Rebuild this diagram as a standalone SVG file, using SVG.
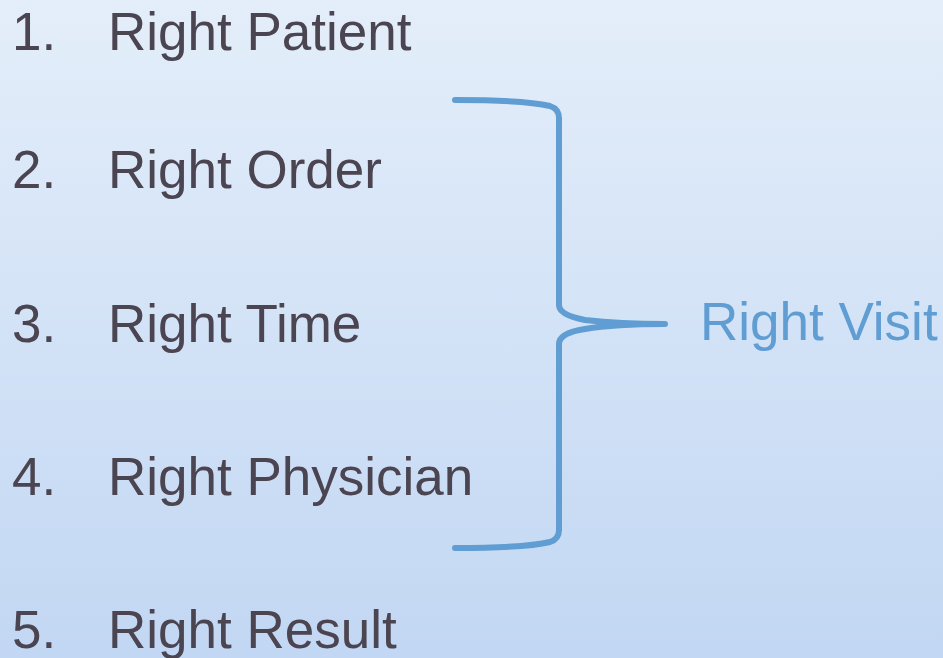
<svg xmlns="http://www.w3.org/2000/svg" width="943" height="658" viewBox="0 0 943 658">
<defs>
<linearGradient id="bg" x1="0" y1="0" x2="0" y2="1">
<stop offset="0" stop-color="#e4eefa"/>
<stop offset="1" stop-color="#c2d7f3"/>
</linearGradient>
<style>
.item{font-family:"Liberation Sans",Arial,sans-serif;font-size:53px;fill:#4b4451}
.lbl{font-family:"Liberation Sans",Arial,sans-serif;font-size:53px;fill:#5f9dd3}
.brace{fill:none;stroke:#5f9dd3;stroke-width:6;stroke-linecap:round;stroke-linejoin:round}
</style>
</defs>
<rect width="943" height="658" fill="url(#bg)"/>
<g id="item1"><text class="item" x="12" y="50">1.</text><text class="item" x="108" y="50">Right Patient</text></g>
<g id="item2"><text class="item" x="12" y="188">2.</text><text class="item" x="108" y="188">Right Order</text></g>
<g id="item3"><text class="item" x="12" y="342">3.</text><text class="item" x="108" y="342">Right Time</text></g>
<g id="item4"><text class="item" x="12" y="495">4.</text><text class="item" x="108" y="495">Right Physician</text></g>
<g id="item5"><text class="item" x="12" y="648">5.</text><text class="item" x="108" y="648">Right Result</text></g>
<g id="connectors">
<path class="brace" d="M455,100 Q525,100 550,106 Q559,109 559,118 L559,305 Q559,315 585,320 Q620,324 665,324 Q615,324 585,329 Q559,333 559,344 L559,530 Q559,539 550,542 Q525,548 455,548"/>
</g>
<g id="right-visit"><text class="lbl" x="700" y="340">Right Visit</text></g>
</svg>
